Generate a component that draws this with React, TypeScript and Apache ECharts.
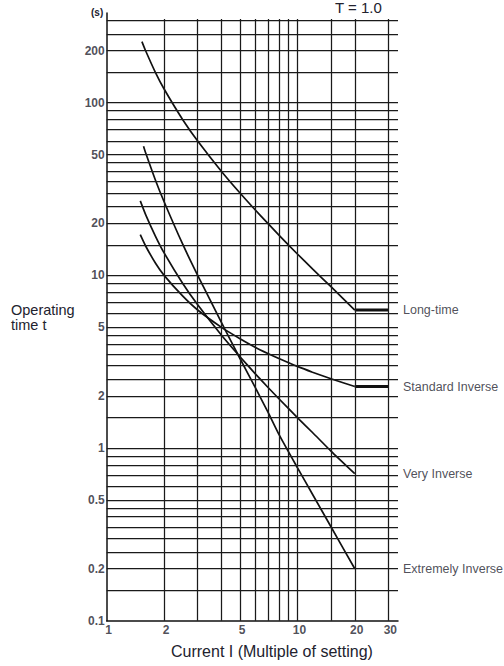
import React, { useEffect, useRef } from "react";
import * as echarts from "echarts";

// Operating time (s) versus current (multiple of setting), T = 1.0
const longTime: [number, number][] = [
  [1.53, 226], [1.6, 200], [1.8, 150], [2, 120], [2.5, 80], [3, 60], [4, 40],
  [5, 30], [6, 24], [7, 20], [8, 17.1], [10, 13.3], [12, 10.9], [15, 8.6], [20, 6.3],
];
const longTimeFlat: [number, number][] = [[20, 6.3], [30, 6.3]];

const standardInverse: [number, number][] = [
  [1.5, 17.2], [1.6, 14.8], [1.8, 11.8], [2, 10.0], [2.5, 7.6], [3, 6.3], [4, 5.0],
  [5, 4.3], [6, 3.84], [7, 3.53], [8, 3.3], [10, 2.97], [12, 2.75], [15, 2.52], [20, 2.27],
];
const standardInverseFlat: [number, number][] = [[20, 2.27], [30, 2.27]];

const veryInverse: [number, number][] = [
  [1.5, 27], [1.6, 22.5], [1.8, 16.9], [2, 13.5], [2.5, 9], [3, 6.75], [4, 4.5],
  [5, 3.38], [6, 2.7], [7, 2.25], [8, 1.93], [10, 1.5], [12, 1.23], [15, 0.96], [20, 0.71],
];

const extremelyInverse: [number, number][] = [
  [1.56, 56], [1.6, 51.3], [1.8, 35.7], [2, 26.7], [2.5, 15.2], [3, 10], [4, 5.33],
  [5, 3.3], [6, 2.25], [7, 1.62], [8, 1.2], [10, 0.77], [12, 0.54], [15, 0.35], [20, 0.2],
];

const curveNames = ["Long-time", "Standard Inverse", "Very Inverse", "Extremely Inverse"];
const curveEndValues = [6.3, 2.27, 0.71, 0.2];

const xGridValues = [2, 3, 4, 5, 6, 7, 8, 9, 10, 15, 20, 30];
const yGridValues = [
  0.15, 0.2, 0.25, 0.3, 0.35, 0.4, 0.45, 0.5, 0.6, 0.7, 0.8, 0.9,
  1, 1.5, 2, 2.5, 3, 3.5, 4, 4.5, 5, 6, 7, 8, 9,
  10, 15, 20, 25, 30, 35, 40, 45, 50, 60, 70, 80, 90,
  100, 150, 200, 250, 300,
];
const xTickLabels = [1, 2, 5, 10, 20, 30];
const yTickLabels = [0.1, 0.2, 0.5, 1, 2, 5, 10, 20, 50, 100, 200];

const X_MIN = 1;
const X_MAX = 33.7;
const Y_MIN = 0.1;
const Y_MAX = 330.8;
const V_LINE_TOP = 305;

const FONT = "'Liberation Sans', Arial, sans-serif";
const TEXT = "#22222e";
const INK = "#111";

export default function App() {
  const ref = useRef<HTMLDivElement>(null);

  useEffect(() => {
    if (!ref.current) return;
    const chart = echarts.init(ref.current, undefined, { renderer: "svg" });

    const gridLines: any[] = [
      ...yGridValues.map((v) => [{ coord: [X_MIN, v] }, { coord: [X_MAX, v] }]),
      ...xGridValues.map((v) => [{ coord: [v, Y_MIN] }, { coord: [v, V_LINE_TOP] }]),
    ];

    const curve = (data: [number, number][], width: number) => ({
      type: "line",
      data,
      symbol: "none",
      smooth: 0.2,
      z: 4,
      silent: true,
      lineStyle: { color: INK, width },
    });

    chart.setOption({
      animation: false,
      grid: { left: 106.7, top: 13, width: 291.3, height: 607.7, containLabel: false },
      xAxis: {
        type: "log",
        min: X_MIN,
        max: X_MAX,
        axisLine: { show: true, lineStyle: { color: INK, width: 1.5 } },
        axisTick: { show: false },
        axisLabel: { show: false },
        splitLine: { show: false },
      },
      yAxis: {
        type: "log",
        min: Y_MIN,
        max: Y_MAX,
        axisLine: { show: true, lineStyle: { color: INK, width: 1.5 } },
        axisTick: { show: false },
        axisLabel: { show: false },
        splitLine: { show: false },
      },
      series: [
        {
          type: "line",
          data: [[X_MIN, Y_MIN]],
          symbol: "none",
          silent: true,
          z: 1,
          lineStyle: { width: 0 },
          markLine: {
            silent: true,
            symbol: ["none", "none"],
            label: { show: false },
            emphasis: { disabled: true },
            lineStyle: { type: "solid", color: "#1a1a1a", width: 1.25 },
            data: gridLines,
          },
        },
        curve(longTime, 1.7),
        curve(longTimeFlat, 3),
        curve(standardInverse, 1.7),
        curve(standardInverseFlat, 3),
        curve(veryInverse, 1.7),
        curve(extremelyInverse, 1.7),
        {
          type: "scatter",
          symbolSize: 0,
          clip: false,
          silent: true,
          z: 5,
          data: yTickLabels.map((v) => [X_MIN, v]),
          label: {
            show: true,
            position: "left",
            distance: 2,
            formatter: (p: any) => String(p.value[1]),
            fontFamily: FONT,
            fontSize: 12,
            fontWeight: "bold",
            color: TEXT,
          },
        },
        {
          type: "scatter",
          symbolSize: 0,
          clip: false,
          silent: true,
          z: 5,
          data: xTickLabels.map((v) => [v, Y_MIN]),
          label: {
            show: true,
            position: "bottom",
            distance: 3,
            offset: [2, 0],
            formatter: (p: any) => String(p.value[0]),
            fontFamily: FONT,
            fontSize: 12,
            fontWeight: "bold",
            color: TEXT,
          },
        },
        {
          type: "scatter",
          symbolSize: 0,
          clip: false,
          silent: true,
          z: 5,
          data: curveNames.map((n, i) => [X_MAX, curveEndValues[i], n]),
          label: {
            show: true,
            position: "right",
            distance: 5,
            formatter: (p: any) => p.value[2],
            fontFamily: FONT,
            fontSize: 12.5,
            color: TEXT,
          },
        },
      ],
      graphic: [
        {
          type: "text",
          left: 91,
          top: 7,
          style: { text: "(s)", font: `bold 10px ${FONT}`, fill: TEXT },
        },
        {
          type: "text",
          left: 335,
          top: 0,
          style: { text: "T = 1.0", font: `15px ${FONT}`, fill: TEXT },
        },
        {
          type: "text",
          left: 11,
          top: 302,
          style: { text: "Operating\ntime t", font: `14.5px ${FONT}`, lineHeight: 15, fill: TEXT },
        },
        {
          type: "text",
          left: 171,
          top: 643,
          style: { text: "Current I (Multiple of setting)", font: `16px ${FONT}`, fill: TEXT },
        },
      ],
    });

    return () => chart.dispose();
  }, []);

  return (
    <div
      ref={ref}
      style={{ position: "absolute", left: 0, top: 0, width: 504, height: 666, background: "#fff" }}
    />
  );
}
